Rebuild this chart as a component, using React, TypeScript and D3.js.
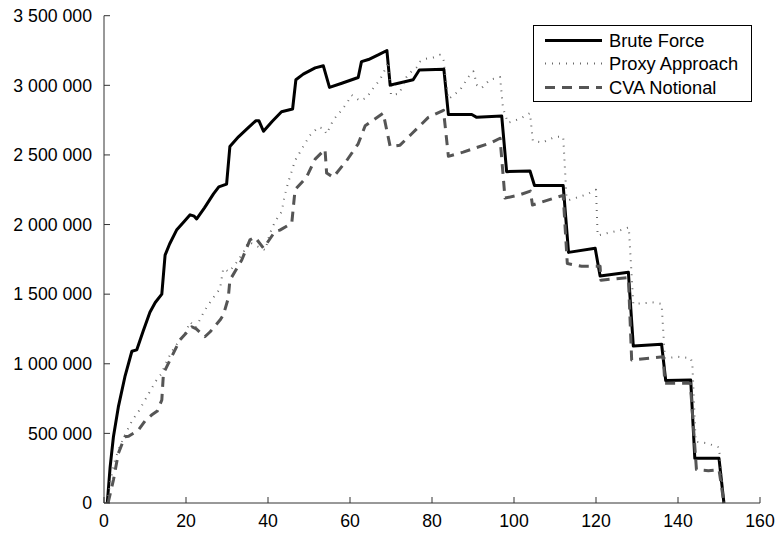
import React from "react";
import * as d3 from "d3";

type P = [number, number];

const bruteForce: P[] = [[0.8,0],[1.5,260000],[2.3,476000],[3.5,690000],[5.1,907000],[6.8,1090000],[8,1100000],[9.5,1230000],[11.2,1370000],[12.5,1440000],[14.1,1500000],[14.9,1780000],[16,1860000],[17.7,1960000],[19.5,2020000],[21,2070000],[22,2060000],[22.6,2040000],[24.5,2120000],[26.7,2220000],[28,2270000],[29.9,2290000],[30.7,2560000],[32.8,2630000],[35,2690000],[37,2745000],[37.8,2745000],[38.9,2670000],[41,2740000],[43.3,2810000],[46,2830000],[46.8,3040000],[48.6,3080000],[51.5,3125000],[53.5,3140000],[55,2985000],[58,3015000],[62,3056000],[62.8,3170000],[64.5,3185000],[67,3220000],[69,3250000],[69.8,3000000],[71,3010000],[75.4,3040000],[76.9,3110000],[82.9,3115000],[84,2790000],[89.7,2790000],[90.9,2770000],[97,2780000],[98.2,2380000],[103.9,2385000],[105,2280000],[112,2280000],[113.3,1800000],[119.8,1830000],[121,1630000],[127.9,1657000],[129.1,1127000],[136,1140000],[137,880000],[143.1,883000],[144.1,321000],[150,321000],[151.2,0]];

const proxyApproach: P[] = [[0.8,0],[1.5,150000],[2.5,290000],[3.5,380000],[4.7,464000],[5.9,536000],[7,600000],[8.4,656000],[10,740000],[11.2,800000],[12.5,870000],[14.1,931000],[15,1000000],[16.5,1086000],[18,1150000],[19.5,1200000],[21,1300000],[22.4,1260000],[24.6,1385000],[26.3,1460000],[28.3,1540000],[29.1,1685000],[30.5,1660000],[32.4,1730000],[34,1800000],[35.2,1876000],[37,1850000],[39.3,1816000],[40.5,1940000],[41.7,2020000],[43.3,2090000],[44.1,2210000],[44.9,2300000],[46.6,2460000],[48.6,2560000],[50.2,2640000],[52.3,2700000],[53.5,2690000],[54.3,2650000],[55.9,2750000],[57.6,2810000],[59.2,2870000],[60.4,2930000],[62.4,2890000],[64,2910000],[65.3,2965000],[67.3,3040000],[68.5,3110000],[69.3,3170000],[70,2930000],[72,2940000],[73.8,3060000],[74.6,3090000],[76.3,3130000],[77.1,3170000],[78.3,3190000],[80.3,3200000],[82,3220000],[82.8,3180000],[84,2900000],[84.8,2920000],[86.8,2965000],[88.9,3060000],[90.1,3100000],[91,3000000],[92.1,2980000],[94.1,3040000],[96.6,3060000],[97.3,2840000],[98.5,2730000],[101.5,2760000],[103.9,2800000],[104.6,2600000],[107,2590000],[110,2630000],[112,2630000],[112.8,2200000],[113.3,2175000],[116,2200000],[118,2220000],[120,2250000],[120.4,1920000],[123,1940000],[126,1960000],[128,1980000],[129.1,1430000],[134,1440000],[136,1430000],[136.8,1040000],[140,1050000],[143.1,1040000],[143.5,1000000],[144.3,440000],[147,430000],[150,400000],[151.2,0]];

const cvaNotional: P[] = [[1,0],[2.3,165000],[3.5,357000],[5.1,476000],[6,480000],[8.4,524000],[10,590000],[11.6,632000],[13,660000],[14.1,740000],[14.5,931000],[16.1,1027000],[18.5,1170000],[21.4,1266000],[22.5,1250000],[24.6,1194000],[25.9,1230000],[28.3,1314000],[29.1,1350000],[30.3,1470000],[30.7,1600000],[33.6,1745000],[35.6,1890000],[36.8,1910000],[38.9,1830000],[41.7,1950000],[42.9,1960000],[45.8,2010000],[46.6,2250000],[49.4,2340000],[51.5,2470000],[53.9,2540000],[54.3,2370000],[55.9,2340000],[59.2,2460000],[62,2580000],[63.7,2710000],[68.1,2800000],[69.8,2560000],[72.2,2570000],[75,2650000],[79.1,2770000],[82.8,2820000],[84,2490000],[87.6,2520000],[94.6,2590000],[96.6,2620000],[97.8,2190000],[101,2210000],[104,2240000],[104.5,2140000],[112,2210000],[113,1720000],[116.5,1700000],[121,1700000],[121.2,1600000],[127.9,1620000],[128.7,1027000],[136.4,1050000],[136.8,860000],[143,860000],[144.5,240000],[147.4,232000],[150,240000],[151.2,0]];

const xTicks = [0, 20, 40, 60, 80, 100, 120, 140, 160];
const yTicks = [0, 500000, 1000000, 1500000, 2000000, 2500000, 3000000, 3500000];
const seriesNames = ["Brute Force", "Proxy Approach", "CVA Notional"];

const W = 778, H = 536;
const left = 104, right = 760, top = 15.7, bottom = 503;
const FONT = "'Liberation Sans', Arial, Helvetica, sans-serif";

const fmt = (v: number) => d3.format(",")(v).replace(/,/g, " ");

export default function App() {
  const x = d3.scaleLinear().domain([0, 160]).range([left, right]);
  const y = d3.scaleLinear().domain([0, 3500000]).range([bottom, top]);
  const line = d3.line<P>().x(d => x(d[0])).y(d => y(d[1]));

  const styles = [
    { data: bruteForce, stroke: "#000", width: 3, dash: undefined as string | undefined },
    { data: proxyApproach, stroke: "#6a6a6a", width: 2, dash: "1,6" },
    { data: cvaNotional, stroke: "#555", width: 3, dash: "10,7" },
  ];

  const lgX = 533.5, lgY = 25.5, lgW = 218, lgH = 76;
  const rowY = [40.5, 63.5, 87.5];

  return (
    <svg width={W} height={H} style={{ position: "absolute", left: 0, top: 0, background: "#fff" }}>
      <rect x={0} y={0} width={W} height={H} fill="#fff" />
      {styles.map((s, i) => (
        <path key={i} d={line(s.data) || ""} fill="none" stroke={s.stroke} strokeWidth={s.width}
          strokeDasharray={s.dash} strokeLinejoin="round" />
      ))}
      {/* axes */}
      <line x1={left} x2={right} y1={bottom} y2={bottom} stroke="#333" strokeWidth={1} />
      <line x1={left} x2={left} y1={top} y2={bottom} stroke="#333" strokeWidth={1} />
      {xTicks.map(t => (
        <g key={"x" + t}>
          <line x1={x(t)} x2={x(t)} y1={bottom} y2={bottom - 6} stroke="#333" />
          <text x={x(t)} y={526.5} textAnchor="middle" fontFamily={FONT} fontSize={17.7} fill="#000">{t}</text>
        </g>
      ))}
      {yTicks.map(t => (
        <g key={"y" + t}>
          <line x1={left} x2={left + 6} y1={y(t)} y2={y(t)} stroke="#333" />
          <text x={92} y={y(t) + 6.3} textAnchor="end" fontFamily={FONT} fontSize={17.7} fill="#000">{fmt(t)}</text>
        </g>
      ))}
      {/* legend */}
      <rect x={lgX} y={lgY} width={lgW} height={lgH} fill="#fff" stroke="#000" strokeWidth={1} />
      {styles.map((s, i) => (
        <g key={"l" + i}>
          <line x1={545} x2={602} y1={rowY[i]} y2={rowY[i]} stroke={s.stroke} strokeWidth={s.width}
            strokeDasharray={s.dash} />
          <text x={609} y={rowY[i] + 6.6} fontFamily={FONT} fontSize={18.3} fill="#000">{seriesNames[i]}</text>
        </g>
      ))}
    </svg>
  );
}
